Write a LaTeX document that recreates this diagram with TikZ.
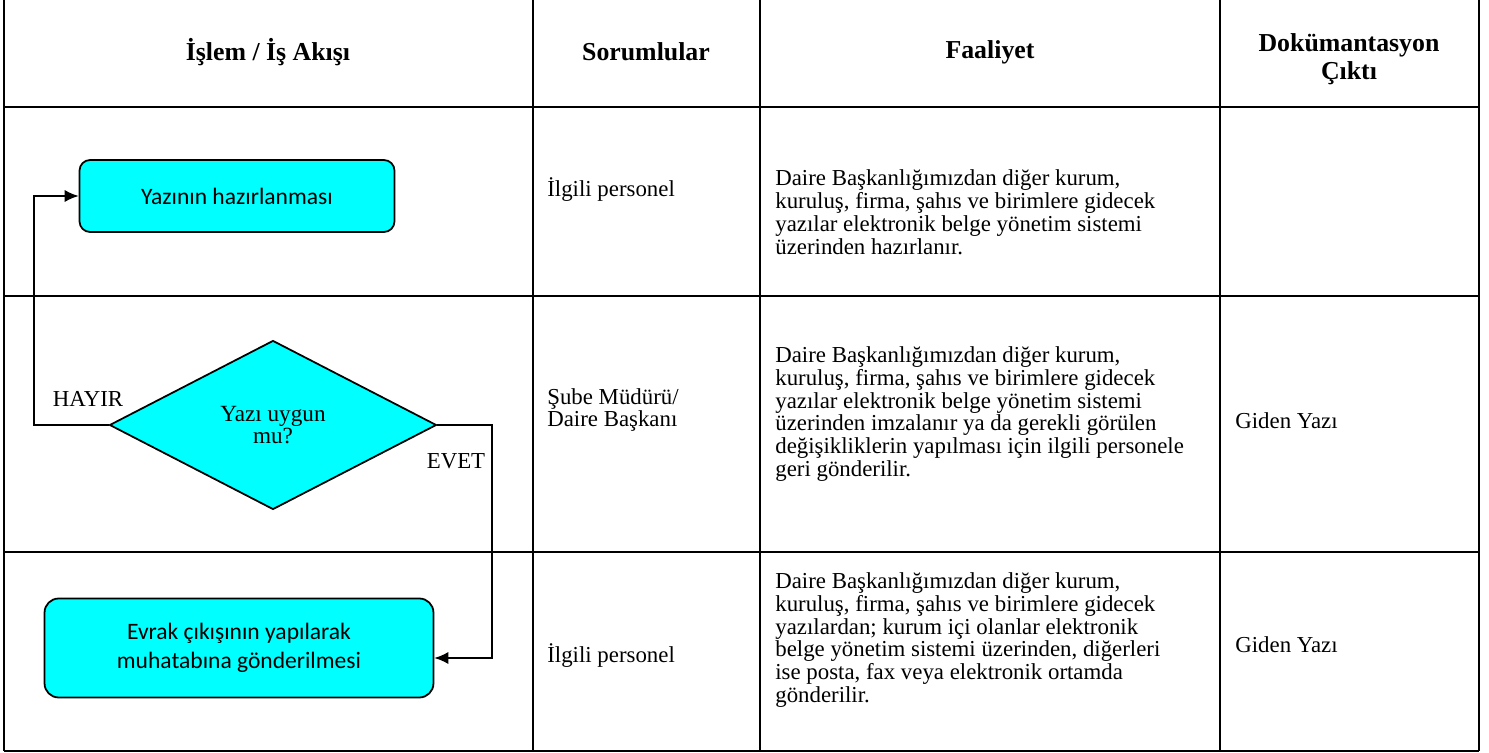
\documentclass[tikz,border=0pt]{standalone}
\usepackage{fontspec}
\setmainfont{Liberation Serif}
\newfontfamily\boxfont{Carlito}
\usetikzlibrary{shapes.geometric,arrows.meta}
\definecolor{flowcyan}{RGB}{0,255,255}

\begin{document}
\begin{tikzpicture}[x=0.02cm,y=-0.02cm,
	rule/.style={line width=1.2pt},
	head/.style={font=\fontsize{14.7}{15.9}\selectfont\bfseries,align=center},
	cell/.style={font=\fontsize{13}{13}\selectfont,align=left,anchor=west,inner sep=0pt},
	proc/.style={draw,line width=1pt,fill=flowcyan,align=center,inner sep=0pt,
		font=\boxfont\fontsize{13.4}{16.5}\selectfont},
	decide/.style={diamond,draw,line width=1pt,fill=flowcyan,align=center,inner sep=0pt,
		minimum width=6.54cm,minimum height=3.38cm,font=\fontsize{13.2}{12.2}\selectfont},
	flow/.style={line width=1pt,-{Latex[length=8pt,width=7pt]}}]

	\useasboundingbox (0,0) rectangle (1489,753);

	% The Table
	\draw[rule] (4,0) -- (4,751);
	\draw[rule] (533,0) -- (533,751);
	\draw[rule] (760,0) -- (760,751);
	\draw[rule] (1220,0) -- (1220,751);
	\draw[rule] (1479,0) -- (1479,751);
	\draw[rule] (4,107) -- (1479,107);
	\draw[rule] (4,296) -- (1479,296);
	\draw[rule] (4,552) -- (1479,552);
	\draw[rule] (4,751) -- (1479,751);

	% Header
	\node[head] (hIslem) at (268,52) {İşlem / İş Akışı};
	\node[head] (hSorumlu) at (646,52) {Sorumlular};
	\node[head] (hFaaliyet) at (990,52) {Faaliyet};
	\node[head] (hCikti) at (1349,59) {Dokümantasyon\\Çıktı};

	% Flow
	\node[proc,rounded corners=6pt,minimum width=6.3cm,minimum height=1.44cm] (hazirla) at (237,196) {Yazının hazırlanması};
	\node[decide] (uygun) at (273,425) {Yazı uygun\\mu?};
	\node[proc,rounded corners=8pt,minimum width=7.78cm,minimum height=1.98cm] (gonder) at (239,648) {Evrak çıkışının yapılarak\\muhatabına gönderilmesi};

	\coordinate (hayirTurn) at (34,425);
	\coordinate (evetTurn) at (492,658);
	\draw[flow] (uygun.west) -- (hayirTurn) |- (hazirla.west);
	\draw[flow] (uygun.east) -| (evetTurn) -- (evetTurn -| gonder.east);
	\node[cell,anchor=center] (hayir) at (88,399) {HAYIR};
	\node[cell,anchor=center] (evet) at (456,461) {EVET};

	% Sorumlular
	\node[cell] (sor1) at (547,190) {İlgili personel};
	\node[cell] (sor2) at (547,410) {Şube Müdürü/\\Daire Başkanı};
	\node[cell] (sor3) at (547,656) {İlgili personel};

	% Faaliyet
	\node[cell] (faal1) at (775,212) {Daire Başkanlığımızdan diğer kurum,\\kuruluş, firma, şahıs ve birimlere gidecek\\yazılar elektronik belge yönetim sistemi\\üzerinden hazırlanır.};
	\node[cell] (faal2) at (775,414) {Daire Başkanlığımızdan diğer kurum,\\kuruluş, firma, şahıs ve birimlere gidecek\\yazılar elektronik belge yönetim sistemi\\üzerinden imzalanır ya da gerekli görülen\\değişikliklerin yapılması için ilgili personele\\geri gönderilir.};
	\node[cell] (faal3) at (775,640) {Daire Başkanlığımızdan diğer kurum,\\kuruluş, firma, şahıs ve birimlere gidecek\\yazılardan; kurum içi olanlar elektronik\\belge yönetim sistemi üzerinden, diğerleri\\ise posta, fax veya elektronik ortamda\\gönderilir.};

	% Cikti
	\node[cell] (cikti2) at (1235,421) {Giden Yazı};
	\node[cell] (cikti3) at (1235,645) {Giden Yazı};

\end{tikzpicture}
\end{document}
